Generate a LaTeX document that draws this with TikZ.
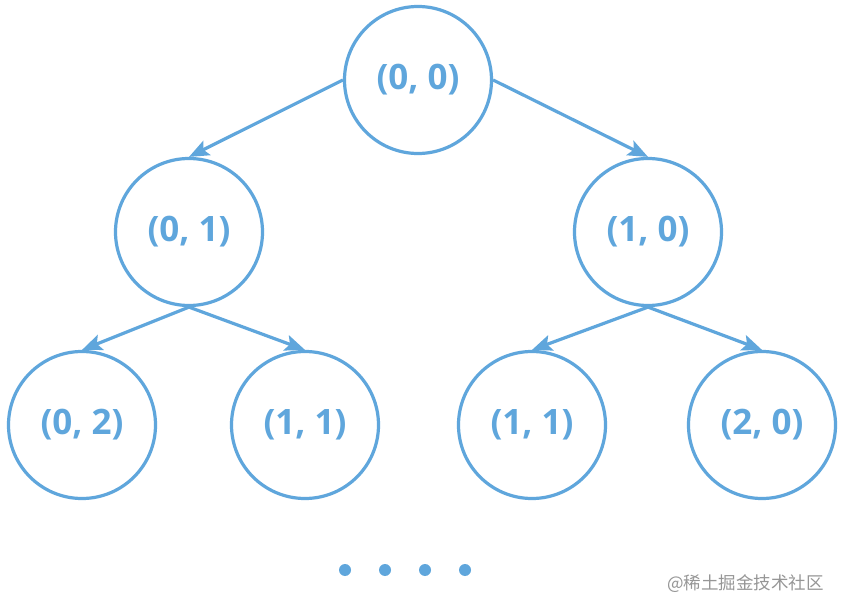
\documentclass[tikz,border=0pt]{standalone}
\usepackage{fontspec}
\setmainfont{Open Sans}
\newfontfamily\cjk{Noto Sans CJK SC}
\usetikzlibrary{arrows.meta}
\definecolor{nodeblue}{RGB}{95,166,220}
\definecolor{wmgray}{RGB}{150,150,150}
\begin{document}
\begin{tikzpicture}[x=1pt,y=-1pt,
  tnode/.style={circle,draw=nodeblue,line width=3.2pt,minimum size=147pt,inner sep=0pt,
    text=nodeblue,font=\fontsize{35}{40}\selectfont\bfseries},
  conn/.style={draw=nodeblue,line width=3.2pt,-{Stealth[length=20pt,width=16pt,inset=4pt]}},
  dotst/.style={circle,fill=nodeblue,inner sep=0pt,minimum size=12pt}]
\fill[white] (0,0) rectangle (844,612);
\useasboundingbox (0,0) rectangle (844,612);
\node[tnode] (r) at (418,80) {(0, 0)};
\node[tnode] (a) at (189,232) {(0, 1)};
\node[tnode] (b) at (648,232) {(1, 0)};
\node[tnode] (aa) at (82,425) {(0, 2)};
\node[tnode] (ab) at (305,425) {(1, 1)};
\node[tnode] (ba) at (532,425) {(1, 1)};
\node[tnode] (bb) at (762,425) {(2, 0)};
\draw[conn] (r.west) -- (a.north);
\draw[conn] (r.east) -- (b.north);
\draw[conn] (a.south) -- (aa.north);
\draw[conn] (a.south) -- (ab.north);
\draw[conn] (b.south) -- (ba.north);
\draw[conn] (b.south) -- (bb.north);
\node[dotst] (d1) at (345,570) {};
\node[dotst] (d2) at (385,570) {};
\node[dotst] (d3) at (425,570) {};
\node[dotst] (d4) at (465,570) {};
\node[text=wmgray,font=\cjk\fontsize{17.5}{20}\selectfont,anchor=east,inner sep=0pt] (wm) at (824,584) {@稀土掘金技术社区};
\end{tikzpicture}
\end{document}
